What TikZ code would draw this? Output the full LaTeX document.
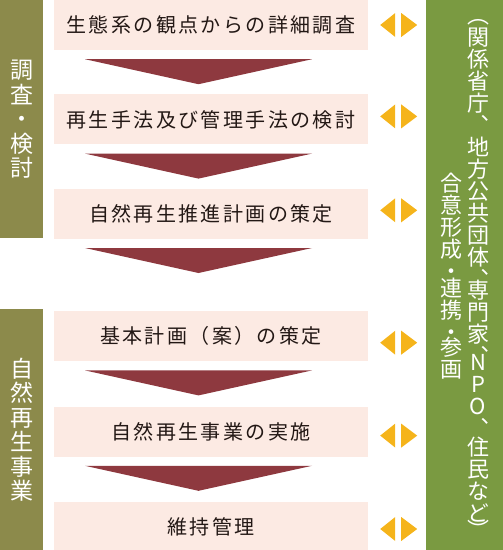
\documentclass[tikz,border=0pt]{standalone}
\usepackage{fontspec}
\setmainfont{Noto Sans CJK JP}
\newfontfamily\stagefont[LetterSpace=12]{Noto Sans CJK JP}
\newfontfamily\tatefont[RawFeature=+vert]{Noto Sans CJK JP}
\usetikzlibrary{positioning, calc}
\definecolor{phaseolive}{HTML}{8C8A4B}
\definecolor{partnergreen}{HTML}{7A9A41}
\definecolor{stagepink}{HTML}{FCEAE3}
\definecolor{flowred}{HTML}{8E393F}
\definecolor{linkgold}{HTML}{F5B41B}
\definecolor{stageink}{HTML}{231815}
\tikzstyle{stage}=[fill=stagepink, text=stageink, inner sep=0pt,
                   minimum width=314pt, minimum height=50pt,
                   font=\stagefont\fontsize{20}{24}\selectfont]
\tikzstyle{phase}=[fill=phaseolive, text=white, inner sep=0pt,
                   anchor=north west, minimum width=43pt, align=center,
                   font=\fontsize{23}{24.5}\selectfont]
\tikzstyle{partner}=[text=white, inner sep=0pt, align=center,
                     font=\tatefont\fontsize{22}{22}\selectfont]
\tikzstyle{flow}=[fill=flowred]
\tikzstyle{link}=[fill=linkgold]

\begin{document}
\begin{tikzpicture}[x=1pt, y=-1pt]
  \useasboundingbox (0,0) rectangle (503,550);
  \node[stage] (s1) at (211,25) {生態系の観点からの詳細調査};
  \node[stage] (s2) [below=44pt of s1] {再生手法及び管理手法の検討};
  \node[stage] (s3) [below=44pt of s2] {自然再生推進計画の策定};
  \node[stage] (s4) [below=72pt of s3] {基本計画（案）の策定};
  \node[stage] (s5) [below=45pt of s4] {自然再生事業の実施};
  \node[stage] (s6) [below=45pt of s5] {維持管理};
  \node[phase, minimum height=238pt] (p1) at (0,0) {調\\査\\・\\検\\討};
  \node[phase, minimum height=241pt] (p2) at (0,309) {自\\然\\再\\生\\事\\業};
  \node[fill=partnergreen, inner sep=0pt, anchor=north east,
        minimum width=76.5pt, minimum height=550pt] (side) at (503,0) {};
  \node[partner] (who) at (478,278.5) {（\\関\\係\\省\\庁\\、\\地\\方\\公\\共\\団\\体\\、\\[-11pt]専\\門\\家\\、\\[-16pt]N\\P\\O\\、\\[-3pt]住\\民\\な\\ど\\[-5pt]）};
  \node[partner] (how) at (451,276) {合\\意\\形\\成\\・\\[-5pt]連\\携\\・\\[-7pt]参\\画};
  % flow between the stages
  \foreach \a in {s1, s2, s3, s4, s5}
    \fill[flow] ($(\a.south)+(-126,9)$) -- ($(\a.south)+(101,9)$)
      -- ($(\a.south)+(-12.5,34)$) -- cycle;
  % two-way links to the partners
  \foreach \s/\dy in {s1/0, s2/-3, s3/-3.5, s4/6.5, s5/4, s6/2} {
    \coordinate (l) at ($(\s.east)+(12,\dy)$);
    \fill[link] (l) -- ++(15,-12) -- ++(0,24) -- cycle;
    \fill[link] ($(l)+(21,-12)$) -- ++(16,12) -- ++(-16,12) -- cycle;
  }
\end{tikzpicture}
\end{document}
